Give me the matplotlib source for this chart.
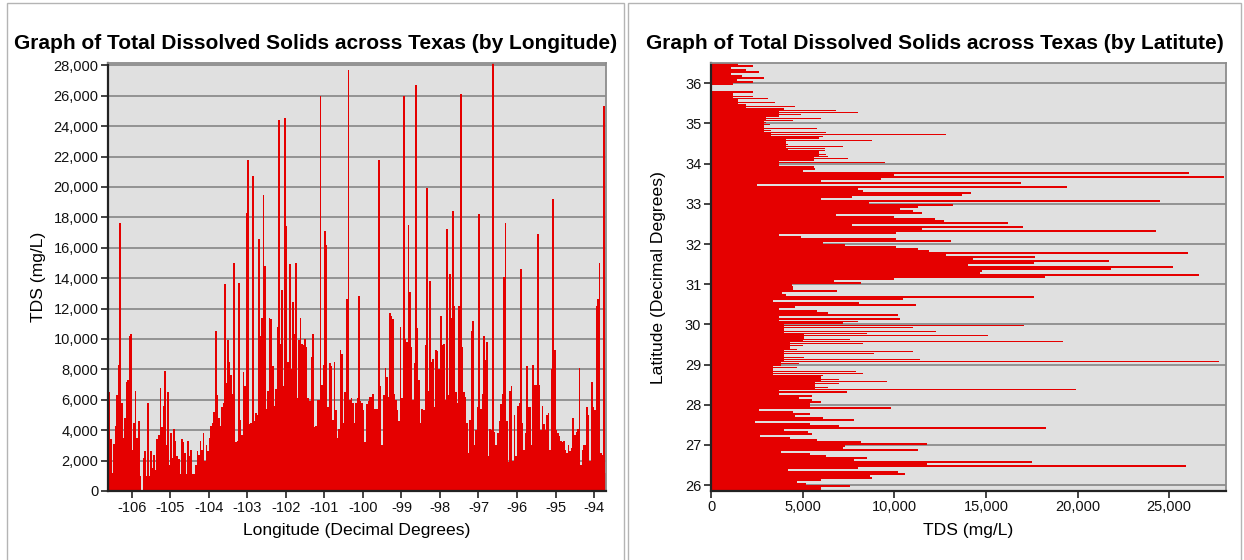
import matplotlib
matplotlib.use('Agg')
import matplotlib.pyplot as plt
from matplotlib.patches import Rectangle
import numpy as np

plt.rcParams['font.family'] = ['Liberation Sans', 'DejaVu Sans']
plt.rcParams['axes.unicode_minus'] = False

# TDS (mg/L) by longitude, 0.04 degree bins, one row per degree of longitude
lon_start = -106.6
lon_step = 0.04
tds_lon_rows = [
    # -106.6 .. -106.0
    [6500, 3400, 1200, 3100, 4300, 6300, 8300, 17600, 5800, 3500, 4800, 7200, 7300, 10200, 10300],
    # -106
    [2700, 4500, 6600, 3500, 4600, 1000, 0, 2200, 2600, 1000, 5800, 1000, 2600, 1500, 2400,
     1400, 3400, 3700, 6800, 4200, 5600, 7900, 3000, 6500, 1700],
    # -105
    [3800, 2200, 4100, 3300, 2300, 2100, 1100, 3400, 3200, 2500, 1100, 3300, 2300, 2700, 1100,
     1100, 1700, 2600, 2400, 3300, 2700, 3800, 2000, 3000, 2600],
    # -104
    [3500, 4300, 4500, 5200, 10500, 6300, 4800, 4300, 5500, 5800, 13600, 7100, 9900, 8500, 7600,
     6400, 15000, 3200, 3300, 13700, 4700, 3700, 7800, 6900, 18300],
    # -103
    [21800, 4400, 4500, 20700, 4600, 5100, 5000, 16600, 10200, 11400, 19500, 14800, 5400, 6600, 11400,
     11300, 8200, 5600, 6700, 10800, 24400, 9700, 13200, 6900, 24500],
    # -102
    [17400, 8500, 14900, 8000, 12400, 10300, 15000, 6100, 9900, 11400, 9700, 9600, 10000, 9500, 6100,
     5900, 8800, 10300, 4200, 4300, 6000, 6000, 26000, 7000, 8300],
    # -101
    [17100, 16200, 5500, 8400, 8200, 4700, 8500, 5300, 3500, 4100, 9300, 9000, 4500, 6500, 12600,
     27700, 6000, 6100, 5800, 4500, 5800, 6100, 12800, 5900, 5800],
    # -100
    [5300, 3200, 5700, 5900, 6200, 6200, 6400, 5400, 5400, 5400, 21800, 6900, 3000, 6300, 8100,
     7500, 6200, 11700, 11500, 11300, 6400, 6000, 5300, 4600, 10800],
    # -99
    [6100, 26000, 10000, 9800, 17500, 13100, 9500, 6000, 8400, 26700, 10700, 7300, 4500, 5400, 5300,
     9600, 19900, 6600, 13800, 8500, 8700, 5500, 9300, 9200, 8000],
    # -98
    [11500, 9600, 9700, 6000, 17200, 6300, 14300, 11400, 18400, 12200, 6500, 5800, 12200, 26100, 9500,
     6500, 6200, 4500, 2500, 4700, 10500, 11200, 3000, 4000, 5500],
    # -97
    [18200, 5400, 6400, 10200, 8600, 9800, 2300, 4100, 4000, 28200, 3900, 3000, 3800, 4600, 5700,
     6400, 14100, 17600, 4600, 1900, 6600, 6900, 2000, 5000, 2300],
    # -96
    [5600, 5800, 14600, 4500, 2700, 3800, 8200, 5500, 5500, 3000, 8300, 7000, 7000, 16900, 7000,
     4000, 5600, 4400, 4000, 5000, 5100, 2700, 8000, 19200, 9300],
    # -95
    [4000, 3800, 3600, 3300, 3200, 3300, 2700, 2500, 3000, 2600, 2800, 4800, 3700, 3900, 4100,
     8100, 1700, 2700, 3000, 3000, 5500, 5000, 2000, 7200, 5500],
    # -94 .. -93.68
    [5300, 12200, 12600, 15000, 2500, 2400, 25300, 1200],
]

# TDS (mg/L) by latitude, 0.05 degree bins from 36.5 going south
lat_top = 36.5
lat_step = 0.05
tds_lat = [
    1500, 2300, 1100, 1900, 2600, 1100, 1700, 2900, 1400, 2300,      # 36.5 - 36.0
    1200, 0, 0, 0, 2300, 1200, 2300, 3100, 1500, 3500,               # 36.0 - 35.5
    1900, 4600, 4000, 6800, 8000, 4900, 3700, 6000, 4500, 3000,      # 35.5 - 35.0
    3200, 2900, 5800, 3300, 6300, 12800, 6100, 5900, 8800, 4100,     # 35.0 - 34.5
    4200, 7200, 6200, 6200, 5900, 6300, 6400, 7500, 5600, 9500,      # 34.5 - 34.0
    3700, 5600, 5700, 5000, 26100, 10000, 28000, 9300, 6000, 16900,  # 34.0 - 33.5
    2500, 19400, 8000, 8300, 14200, 13700, 7700, 6000, 24500, 8600,  # 33.5 - 33.0
    13200, 11300, 10300, 11000, 11500, 6800, 10000, 12200, 12700, 16200,  # 33.0 - 32.5
    7700, 17000, 11500, 24300, 10100, 3700, 4900, 10100, 13100, 6100,     # 32.5 - 32.0
    7300, 10100, 11300, 11900, 26000, 12800, 17700, 14300, 21700, 17600,  # 32.0 - 31.5
    14000, 25200, 21800, 14800, 14700, 26600, 18200, 10000, 6700, 8200,   # 31.5 - 31.0
    4400, 4500, 4500, 6900, 3900, 4100, 17600, 10500, 3400, 8100,    # 31.0 - 30.5
    11200, 4600, 3700, 5800, 6400, 10200, 3700, 10300, 8000, 7200,   # 30.5 - 30.0
    17100, 11000, 4000, 12300, 8500, 15100, 5100, 7600, 19200, 8300, # 30.0 - 29.5
    5000, 4300, 4700, 11000, 8900, 4000, 5100, 11400, 27700, 4800,   # 29.5 - 29.0
    3800, 4700, 3400, 7900, 8300, 6100, 6000, 7000, 9600, 7000,      # 29.0 - 28.5
    5700, 6400, 19900, 7400, 3700, 5500, 4800, 5500, 6000, 5400,     # 28.5 - 28.0
    5400, 9800, 2600, 4500, 5400, 4600, 6100, 7800, 2400, 5400,      # 28.0 - 27.5
    7000, 18300, 4000, 5300, 5500, 2700, 4300, 5800, 8200, 11800,    # 27.5 - 27.0
    7300, 7200, 11300, 3800, 5400, 6300, 8500, 7800, 17500, 11800,   # 27.0 - 26.5
    25900, 8000, 4200, 10200, 10600, 8700, 8800, 6000, 4700, 5200,   # 26.5 - 26.0
    7600, 6000, 6000,                                                # 26.0 - 25.85
]

lon_ticks = list(range(-106, -93))
tds_ticks = list(range(0, 28001, 2000))
lat_ticks = list(range(26, 37))
tds_ticks_h = list(range(0, 25001, 5000))

W, H = 1244, 560
RED = '#e50000'
BG = '#e0e0e0'
GRID = '#8c8c8c'
DARK = '#222222'

tds_lon = np.concatenate([np.array(r, dtype=float) for r in tds_lon_rows])
lons = lon_start + lon_step * np.arange(len(tds_lon))
tds_lat = np.array(tds_lat, dtype=float)
lat_bottoms = lat_top - lat_step * (np.arange(len(tds_lat)) + 1)

# many samples share one bin: the part common to neighbouring bins reads as a
# solid block, the rest as one thinner line per bin
padded = np.concatenate([tds_lat[:1], tds_lat[:1], tds_lat, tds_lat[-1:], tds_lat[-1:]])
lat_solid = np.min(np.vstack([padded[i:i + len(tds_lat)] for i in range(5)]), axis=0)


def fx(px):
    return px / W


def fy(py):
    return 1 - py / H


fig = plt.figure(figsize=(W / 100, H / 100), dpi=100)

# panel frames
fig.add_artist(Rectangle((fx(7), fy(562)), fx(624) - fx(7), fy(3) - fy(562),
                         transform=fig.transFigure, fill=False, ec='#b4b4b4', lw=1))
fig.add_artist(Rectangle((fx(627.5), fy(562)), fx(1241) - fx(627.5), fy(3) - fy(562),
                         transform=fig.transFigure, fill=False, ec='#b4b4b4', lw=1))


def style_axes(ax):
    ax.set_facecolor(BG)
    ax.set_axisbelow(True)
    for side in ['left', 'bottom']:
        ax.spines[side].set_color(DARK)
        ax.spines[side].set_linewidth(1.6)
    for side in ['top', 'right']:
        ax.spines[side].set_color(GRID)
        ax.spines[side].set_linewidth(1.3)
    ax.tick_params(direction='out', length=5, width=1.2, color=DARK,
                   labelsize=10.5, pad=2, labelcolor='#111111')
    ax.tick_params(top=False, right=False)


# left: by longitude
ax1 = fig.add_axes([fx(108.3), fy(491), (606 - 108.3) / W, (491 - 63) / H])
style_axes(ax1)
ax1.bar(lons, tds_lon, width=lon_step, align='edge', color=RED, linewidth=0)
ax1.set_xlim(-106.61, -93.69)
ax1.set_ylim(0, 28150)
ax1.set_yticks(tds_ticks)
ax1.set_yticklabels([f'{v:,}' for v in tds_ticks])
ax1.set_xticks(lon_ticks)
ax1.set_xticklabels([str(v) for v in lon_ticks])
ax1.yaxis.grid(True, color=GRID, lw=1.3)

# right: by latitude
ax2 = fig.add_axes([fx(711), fy(490.7), (1226 - 711) / W, (490.7 - 63.2) / H])
style_axes(ax2)
ax2.barh(lat_bottoms, lat_solid, height=lat_step, align='edge', color=RED, linewidth=0)
ax2.barh(lat_bottoms + 0.08 * lat_step, tds_lat, height=0.84 * lat_step, align='edge',
         color=RED, linewidth=0)
ax2.set_ylim(25.86, 36.5)
ax2.set_xlim(0, 28100)
ax2.set_yticks(lat_ticks)
ax2.set_yticklabels([str(v) for v in lat_ticks])
ax2.set_xticks(tds_ticks_h)
ax2.set_xticklabels([f'{v:,}' for v in tds_ticks_h])
ax2.yaxis.grid(True, color=GRID, lw=1.3)

# titles and axis labels
fig.text(fx(315.5), fy(49), 'Graph of Total Dissolved Solids across Texas (by Longitude)',
         ha='center', va='baseline', fontsize=15, fontweight='bold')
fig.text(fx(935), fy(49), 'Graph of Total Dissolved Solids across Texas (by Latitute)',
         ha='center', va='baseline', fontsize=15, fontweight='bold')
fig.text(fx(357), fy(535), 'Longitude (Decimal Degrees)', ha='center', va='baseline', fontsize=12.6)
fig.text(fx(968.5), fy(535), 'TDS (mg/L)', ha='center', va='baseline', fontsize=12.6)
fig.text(fx(38.5), fy(277), 'TDS (mg/L)', ha='center', va='center', rotation=90, fontsize=12.6)
fig.text(fx(659), fy(277), 'Latitude (Decimal Degrees)', ha='center', va='center', rotation=90, fontsize=12.6)

fig.savefig('out.png', dpi=100)
